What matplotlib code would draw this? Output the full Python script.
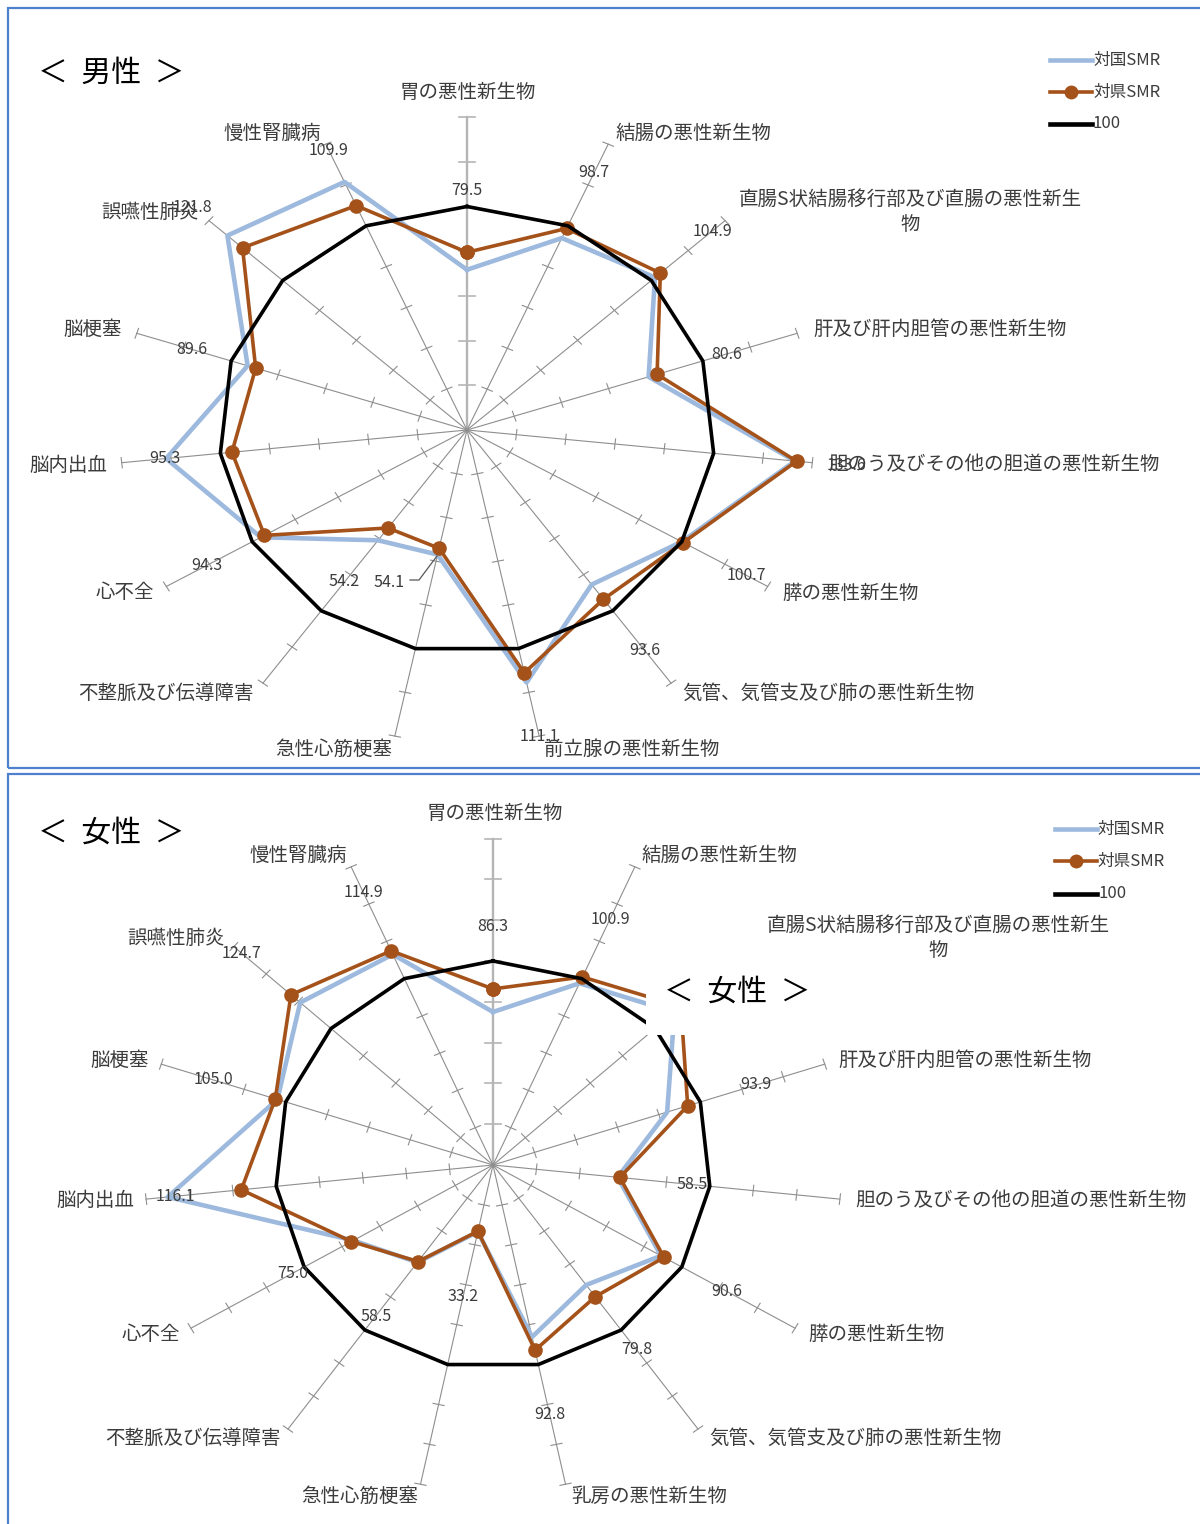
import numpy as np
import matplotlib
matplotlib.use('Agg')
import matplotlib.pyplot as plt
from matplotlib.lines import Line2D
from matplotlib.patches import Rectangle

plt.rcParams['font.family'] = ['Noto Sans CJK JP', 'DejaVu Sans']

# ---------------- data ----------------
male_categories = [
    '胃の悪性新生物', '結腸の悪性新生物', '直腸S状結腸移行部及び直腸の悪性新生物',
    '肝及び肝内胆管の悪性新生物', '胆のう及びその他の胆道の悪性新生物', '膵の悪性新生物',
    '気管、気管支及び肺の悪性新生物', '前立腺の悪性新生物', '急性心筋梗塞',
    '不整脈及び伝導障害', '心不全', '脳内出血', '脳梗塞', '誤嚥性肺炎', '慢性腎臓病']
female_categories = [
    '胃の悪性新生物', '結腸の悪性新生物', '直腸S状結腸移行部及び直腸の悪性新生物',
    '肝及び肝内胆管の悪性新生物', '胆のう及びその他の胆道の悪性新生物', '膵の悪性新生物',
    '気管、気管支及び肺の悪性新生物', '乳房の悪性新生物', '急性心筋梗塞',
    '不整脈及び伝導障害', '心不全', '脳内出血', '脳梗塞', '誤嚥性肺炎', '慢性腎臓病']

series_names = ['対国SMR', '対県SMR', '100']

male_national = [71.7, 94.0, 102.0, 77.0, 133.0, 100.0, 85.5, 115.5, 57.0, 61.0, 96.0, 122.0, 93.0, 130.0, 121.5]
male_pref = [79.5, 98.7, 104.9, 80.6, 133.6, 100.7, 93.6, 111.1, 54.1, 54.2, 94.3, 95.3, 89.6, 121.8, 109.9]

female_national = [75.0, 97.5, 112.0, 84.0, 57.5, 89.0, 72.7, 86.2, 33.5, 59.0, 74.0, 150.0, 104.0, 119.0, 113.0]
female_pref = [86.3, 100.9, 116.0, 93.9, 58.5, 90.6, 79.8, 92.8, 33.2, 58.5, 75.0, 116.1, 105.0, 124.7, 114.9]

baseline = [100] * 15

# ---------------- layout ----------------
W, H = 1200, 1524
BLUE = '#9dbade'
ORANGE = '#a4521a'
BORDER = '#4f7fcf'
TXT = '#3c3c3c'

fig = plt.figure(figsize=(W / 100, H / 100), dpi=100)
fig.patch.set_facecolor('white')


def fx(x):
    return x / W


def fy(y):
    return 1 - y / H


def make_axes(cx, cy, rmax, sx, sy):
    rx, ry = rmax * sx, rmax * sy
    ax = fig.add_axes([fx(cx - rx), fy(cy + ry), 2 * rx / W, 2 * ry / H], projection='polar')
    ax.set_aspect('auto')
    ax.set_theta_zero_location('N')
    ax.set_theta_direction(-1)
    ax.set_ylim(0, rmax)
    ax.axis('off')
    return ax


def draw_chart(ax, rmax, step, national, pref, labr, labdth, tick_main, tick_other):
    n = len(pref)
    theta = np.arange(n) * 2 * np.pi / n
    # spokes with tick marks
    for i, th in enumerate(theta):
        main = (i == 0)
        col = '#b5b5b5' if main else '#8e8e8e'
        ax.plot([th, th], [0, rmax], color=col, lw=1.7 if main else 0.8,
                clip_on=False, zorder=1)
        L = tick_main if main else tick_other
        for r in np.arange(step, rmax + 0.1, step):
            x, y = r * np.sin(th), r * np.cos(th)
            px, py = np.cos(th), -np.sin(th)
            pts = [(x - L * px, y - L * py), (x + L * px, y + L * py)]
            ax.plot([np.arctan2(a, b) for a, b in pts], [np.hypot(a, b) for a, b in pts],
                    color=col, lw=1.2 if main else 0.8, clip_on=False, zorder=1)
    thc = np.append(theta, theta[0])
    ax.plot(thc, np.append(national, national[0]), color=BLUE, lw=3.3,
            clip_on=False, zorder=3)
    ax.plot(thc, np.append(pref, pref[0]), color=ORANGE, lw=2.6, marker='o',
            ms=9.5, clip_on=False, zorder=4)
    ax.plot(thc, np.append(baseline, baseline[0]), color='black', lw=2.6,
            clip_on=False, zorder=5)
    for i, v in enumerate(pref):
        if labr[i] is None:
            continue
        ax.text(theta[i] + np.deg2rad(labdth[i]), labr[i], f'{v:.1f}', ha='center',
                va='center', fontsize=11.5, color=TXT, zorder=6, clip_on=False)
    return theta


def cat_label(name, x, y, ha):
    disp = name if len(name) < 18 else name[:-1] + '\n' + name[-1]
    fig.text(fx(x), fy(y), disp, ha=ha, va='center', fontsize=14, color=TXT,
             multialignment='center', linespacing=1.25)


def legend(x0, x1, ys):
    styles = [dict(color=BLUE, lw=3.3), dict(color=ORANGE, lw=2.6),
              dict(color='black', lw=3.3)]
    for k, (name, y) in enumerate(zip(series_names, ys)):
        fig.add_artist(Line2D([fx(x0), fx(x1)], [fy(y), fy(y)], transform=fig.transFigure,
                              **styles[k]))
        if k == 1:
            fig.add_artist(Line2D([fx((x0 + x1) / 2)], [fy(y)], transform=fig.transFigure,
                                  marker='o', ms=9, color=ORANGE))
        fig.text(fx(x1 + 1), fy(y), name, ha='left', va='center', fontsize=12, color=TXT)


# ---------------- borders ----------------
fig.add_artist(Rectangle((fx(8), fy(768)), fx(1215) - fx(8), (768 - 8) / H,
                         transform=fig.transFigure, fill=False, ec=BORDER, lw=1.6))
fig.add_artist(Rectangle((fx(8), fy(1535)), fx(1215) - fx(8), (1535 - 774) / H,
                         transform=fig.transFigure, fill=False, ec=BORDER, lw=1.6))

# ---------------- male chart ----------------
axm = make_axes(467, 430, 140, 2.48, 2.235)
male_lab_r = [107, 126, 133, 110, 154, 130, 122, 140, 75, 84, 121, 122.5, 116.6, 149, 137]
male_lab_dth = [0, 0, 0, 0, 0, 0, 0, 0, 12.9, 0, 0, 0, 0, 0, 0]
draw_chart(axm, 140, 20, male_national, male_pref, male_lab_r, male_lab_dth, 3.4, 2.3)
# leader line for 急性心筋梗塞 label
lead = [(410, 580), (419, 580), (437, 556)]
fig.add_artist(Line2D([fx(a) for a, b in lead], [fy(b) for a, b in lead],
                      transform=fig.transFigure, color='#555555', lw=0.9))

male_pos = [(468, 92, 'center'), (616, 133, 'left'), (910, 212, 'center'), (813, 329, 'left'),
            (828, 465, 'left'), (782, 593, 'left'), (682, 693, 'left'), (544, 749, 'left'),
            (334, 749, 'center'), (166, 693, 'center'), (125, 593, 'center'), (68, 465, 'center'),
            (93, 329, 'center'), (150, 212, 'center'), (272, 133, 'center')]
for name, (x, y, ha) in zip(male_categories, male_pos):
    cat_label(name, x, y, ha)

fig.text(fx(38), fy(73), '＜  男性  ＞', ha='left', va='center', fontsize=21.5, color='black')
legend(1050, 1092, [60, 92, 124])

# ---------------- female chart ----------------
axf = make_axes(493, 1165, 160, 2.18, 2.04)
female_lab_r = [117, 132, None, 127, 92, 124, 112, 125, 66, 91.5, 106, 146.7, 135, 155, 146]
female_lab_dth = [0] * 15
draw_chart(axf, 160, 20, female_national, female_pref, female_lab_r, female_lab_dth, 3.7, 2.6)

female_pos = [(495, 813, 'center'), (642, 855, 'left'), (938, 938, 'center'), (838, 1060, 'left'),
              (855, 1200, 'left'), (808, 1334, 'left'), (709, 1438, 'left'), (571, 1496, 'left'),
              (360, 1496, 'center'), (193, 1438, 'center'), (151, 1334, 'center'), (95, 1200, 'center'),
              (120, 1060, 'center'), (176, 938, 'center'), (298, 855, 'center')]
for name, (x, y, ha) in zip(female_categories, female_pos):
    cat_label(name, x, y, ha)

fig.text(fx(38), fy(833), '＜  女性  ＞', ha='left', va='center', fontsize=21.5, color='black')
legend(1055, 1097, [829, 861, 894])

# stray pasted title box over the female chart
fig.add_artist(Rectangle((fx(646), fy(1035)), (845 - 646) / W, (1035 - 938) / H,
                         transform=fig.transFigure, fc='white', ec='none', zorder=10))
fig.text(fx(664), fy(992), '＜  女性  ＞', ha='left', va='center', fontsize=21.5,
         color='black', zorder=11)

fig.savefig('out.png', dpi=100, facecolor='white')
